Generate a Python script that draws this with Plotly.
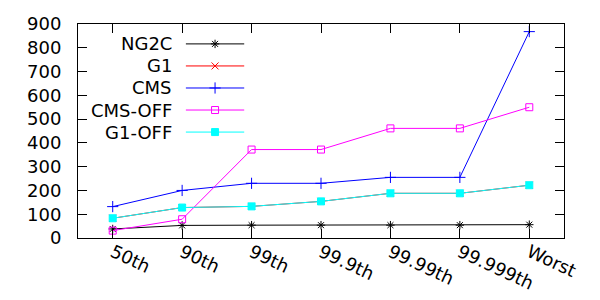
import plotly.graph_objects as go

categories = ["50th", "90th", "99th", "99.9th", "99.99th", "99.999th", "Worst"]
ng2c = [38, 53, 54, 54, 54, 54, 56]
g1 = [83, 128, 133, 154, 188, 188, 222]
cms = [132, 200, 230, 230, 255, 255, 868]
cms_off = [31, 79, 372, 372, 461, 461, 550]
g1_off = [83, 128, 133, 154, 188, 188, 222]
y_ticks = [0, 100, 200, 300, 400, 500, 600, 700, 800, 900]

series = [
    ("NG2C", ng2c, "#000000", "asterisk-open", 7),
    ("G1", g1, "#ff0000", "x-thin-open", 7),
    ("CMS", cms, "#0000ff", "cross-thin-open", 8),
    ("CMS-OFF", cms_off, "#ff00ff", "square-open", 7),
    ("G1-OFF", g1_off, "#00ffff", "square", 7),
]

FONT = "DejaVu Sans"
FS = 18
fig = go.Figure()
xs = list(range(len(categories)))
for name, vals, color, sym, size in series:
    fig.add_trace(go.Scatter(
        x=xs, y=vals, mode="lines+markers", name=name,
        line=dict(color=color, width=1),
        marker=dict(symbol=sym, size=size, color=color,
                    line=dict(color=color, width=1)),
        showlegend=False, xaxis="x", yaxis="y",
    ))

# custom gnuplot-style legend (text left, sample right) on an overlay axis
leg_rows = [0.907, 0.804, 0.701, 0.598, 0.495]
leg_x0, leg_x1, leg_xm, leg_tx = 0.222, 0.342, 0.282, 0.197
for (name, vals, color, sym, size), ry in zip(series, leg_rows):
    fig.add_trace(go.Scatter(
        x=[leg_x0, leg_x1], y=[ry, ry], mode="lines",
        line=dict(color=color, width=1), showlegend=False,
        xaxis="x2", yaxis="y2", hoverinfo="skip"))
    fig.add_trace(go.Scatter(
        x=[leg_xm], y=[ry], mode="markers",
        marker=dict(symbol=sym, size=size, color=color,
                    line=dict(color=color, width=1)),
        showlegend=False, xaxis="x2", yaxis="y2", hoverinfo="skip"))
    fig.add_annotation(x=leg_tx, y=ry, xref="x2", yref="y2", text=name,
                       showarrow=False, xanchor="right", yanchor="middle",
                       font=dict(family=FONT, size=FS, color="black"))

# page body has an 8px default margin; compensate in the figure margins
fig.update_layout(
    template="none",
    width=600, height=300,
    margin=dict(l=70, r=44, t=16, b=70, autoexpand=False),
    paper_bgcolor="white", plot_bgcolor="white",
    font=dict(family=FONT, size=FS, color="black"),
    xaxis=dict(
        tickmode="array", tickvals=xs, ticktext=categories,
        range=[-0.5, 6.5], tickangle=25, automargin=False,
        showline=True, linecolor="black", linewidth=1, mirror="ticks",
        ticks="inside", ticklen=9, tickcolor="black", showgrid=False,
        zeroline=False, ticklabelstandoff=-4,
    ),
    yaxis=dict(
        tickmode="array", tickvals=y_ticks, range=[0, 900], automargin=False,
        showline=True, linecolor="black", linewidth=1, mirror="ticks",
        ticks="inside", ticklen=9, tickcolor="black", showgrid=False,
        zeroline=False, ticklabelstandoff=12,
    ),
    xaxis2=dict(range=[0, 1], overlaying="x", visible=False, automargin=False),
    yaxis2=dict(range=[0, 1], overlaying="y", visible=False, automargin=False),
)

fig.write_html("out.html")
